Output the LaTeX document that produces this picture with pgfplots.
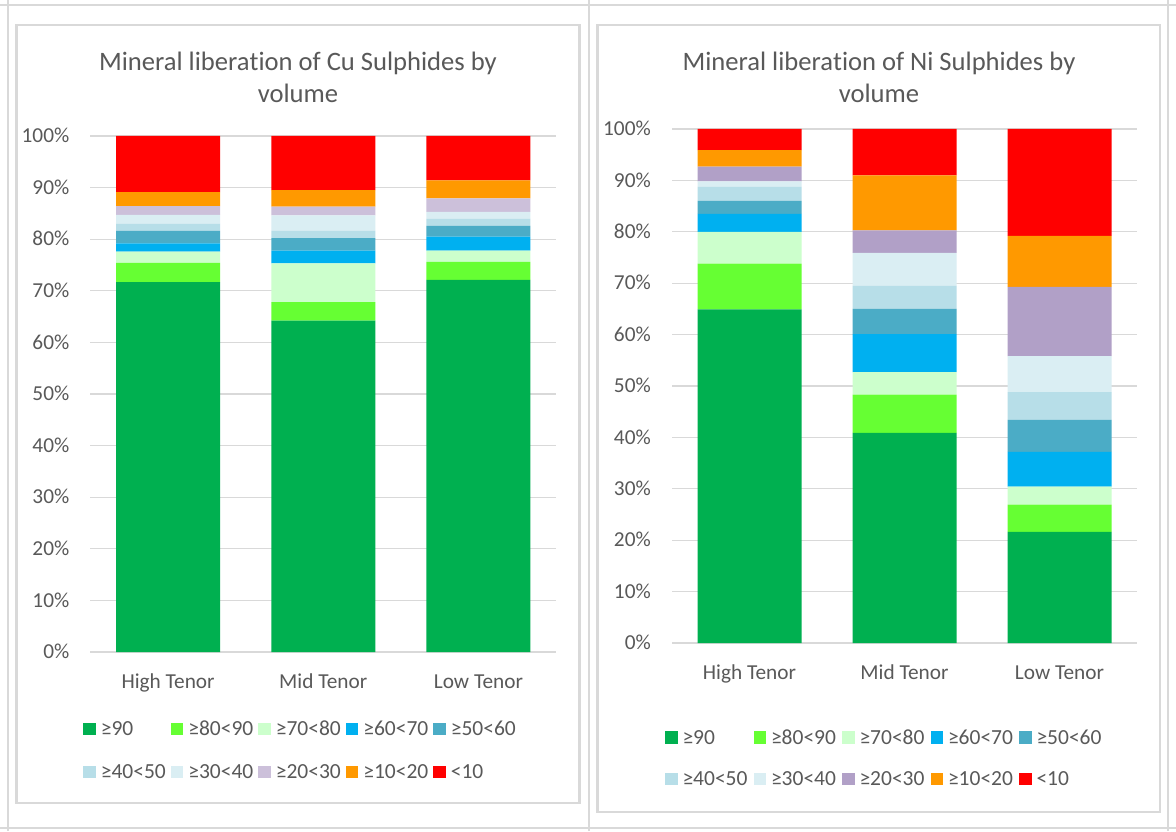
\documentclass[border=0pt]{standalone}
\usepackage{fontspec}
\setmainfont{Carlito}[Ligatures={NoCommon,NoContextual}]
\usepackage{pgfplots}
\pgfplotsset{compat=1.18}
\definecolor{c90}{HTML}{00B050}
\definecolor{c80}{HTML}{66FF33}
\definecolor{c70}{HTML}{CCFFCC}
\definecolor{c60}{HTML}{00B0F0}
\definecolor{c50}{HTML}{4BACC6}
\definecolor{c40}{HTML}{B7DEE8}
\definecolor{c30}{HTML}{DAEEF3}
\definecolor{c20a}{HTML}{CCC0DA}
\definecolor{c20b}{HTML}{B1A0C7}
\definecolor{c10}{HTML}{FF9900}
\definecolor{c0}{HTML}{FF0000}
\definecolor{txt}{HTML}{595959}
\definecolor{gridc}{HTML}{D9D9D9}
\definecolor{framec}{HTML}{D9D9D9}
\newcommand{\libt}{libera\mbox{t}ion}
\pgfplotsset{mystyle/.style={
  scale only axis, width=465.5pt, height=516pt,
  xmin=-0.5, xmax=2.5, ymin=0, ymax=100, enlargelimits=false,
  ybar stacked, bar width=104pt,
  xtick={0,1,2}, xticklabels={High Tenor,Mid Tenor,Low Tenor},
  ytick={0,10,20,30,40,50,60,70,80,90,100},
  yticklabels={0\%,10\%,20\%,30\%,40\%,50\%,60\%,70\%,80\%,90\%,100\%},
  ymajorgrids, grid style={line width=1.3pt, gridc},
  axis line style={draw=none}, major tick length=0pt,
  tick label style={font=\fontsize{21.3}{25}\selectfont, text=txt},
  xticklabel style={anchor=base, yshift=-36pt},
  yticklabel style={anchor=base east, inner xsep=0pt, xshift=-21pt, yshift=-6.7pt},
  legend columns=5,
  legend cell align=left,
  legend image code/.code={\fill[##1] (0pt,-6.4pt) rectangle (12.5pt,6.4pt);},
  legend style={draw=none, fill=none, inner sep=0pt, outer sep=0pt, anchor=north west,
    font=\fontsize{21.5}{25}\selectfont, text=txt,
    nodes={text width=65pt, align=left, inner xsep=5pt, inner ysep=0pt, text height=16.65pt, text depth=3.35pt},
    row sep=23pt},
  every axis plot/.append style={draw=none},
}}
\begin{document}
\begin{tikzpicture}
\fill[white] (0pt,0pt) rectangle (1176pt,831pt);
\path[use as bounding box] (0pt,0pt) rectangle (1176pt,831pt);
% outer table lines
\draw[framec, line width=1.5pt] (0pt,826pt) -- (1176pt,826pt);
\draw[framec, line width=1.5pt] (8pt,0pt) -- (8pt,831pt);
\draw[framec, line width=1.5pt] (589pt,0pt) -- (589pt,831pt);
\draw[framec, line width=1.5pt] (1168pt,0pt) -- (1168pt,831pt);
\draw[framec, line width=1.5pt] (0pt,3pt) -- (1176pt,3pt);
% chart boxes
\draw[framec, line width=2.3pt] (16.5pt,831pt-803pt) rectangle (579.5pt,831pt-25pt);
\draw[framec, line width=2.3pt] (597.5pt,831pt-812pt) rectangle (1160pt,831pt-25pt);
% titles
\node[anchor=base, text=txt, font=\fontsize{26.6}{32}\selectfont, inner sep=0pt] at (298pt,831pt-71pt) {Mineral \libt{} of Cu Sulphides by};
\node[anchor=base, text=txt, font=\fontsize{26.6}{32}\selectfont, inner sep=0pt] at (298pt,831pt-103pt) {volume};
\node[anchor=base, text=txt, font=\fontsize{26.6}{32}\selectfont, inner sep=0pt] at (879pt,831pt-71pt) {Mineral \libt{} of Ni Sulphides by};
\node[anchor=base, text=txt, font=\fontsize{26.6}{32}\selectfont, inner sep=0pt] at (879pt,831pt-103pt) {volume};

\begin{axis}[mystyle, at={(90.5pt,179pt)}, anchor=south west,
  legend style={at={(-0.01547,-0.12984)}, row sep=23pt}]
\addplot[fill=c90] coordinates {(0,71.7) (1,64.2) (2,72.1)};
\addplot[fill=c80] coordinates {(0,3.7) (1,3.6) (2,3.5)};
\addplot[fill=c70] coordinates {(0,2.2) (1,7.5) (2,2.2)};
\addplot[fill=c60] coordinates {(0,1.6) (1,2.5) (2,2.7)};
\addplot[fill=c50] coordinates {(0,2.4) (1,2.4) (2,2.1)};
\addplot[fill=c40] coordinates {(0,1.4) (1,1.4) (2,1.4)};
\addplot[fill=c30] coordinates {(0,1.7) (1,3.0) (2,1.3)};
\addplot[fill=c20a] coordinates {(0,1.7) (1,1.7) (2,2.6)};
\addplot[fill=c10] coordinates {(0,2.7) (1,3.2) (2,3.5)};
\addplot[fill=c0] coordinates {(0,10.9) (1,10.5) (2,8.6)};
\legend{≥90,≥80<90,≥70<80,≥60<70,≥50<60,≥40<50,≥30<40,≥20<30,≥10<20,<10}
\end{axis}

\begin{axis}[mystyle, at={(672pt,188pt)}, anchor=south west, width=465pt, height=514pt,
  legend style={at={(-0.01505,-0.1644)}, row sep=21.5pt,
    nodes={text width=66pt}}]
\addplot[fill=c90] coordinates {(0,64.9) (1,40.9) (2,21.6)};
\addplot[fill=c80] coordinates {(0,8.9) (1,7.4) (2,5.3)};
\addplot[fill=c70] coordinates {(0,6.2) (1,4.4) (2,3.5)};
\addplot[fill=c60] coordinates {(0,3.5) (1,7.4) (2,6.8)};
\addplot[fill=c50] coordinates {(0,2.5) (1,4.9) (2,6.2)};
\addplot[fill=c40] coordinates {(0,2.8) (1,4.5) (2,5.4)};
\addplot[fill=c30] coordinates {(0,1.0) (1,6.4) (2,7.0)};
\addplot[fill=c20b] coordinates {(0,2.9) (1,4.4) (2,13.5)};
\addplot[fill=c10] coordinates {(0,3.2) (1,10.7) (2,9.9)};
\addplot[fill=c0] coordinates {(0,4.1) (1,9.0) (2,20.8)};
\legend{≥90,≥80<90,≥70<80,≥60<70,≥50<60,≥40<50,≥30<40,≥20<30,≥10<20,<10}
\end{axis}
\end{tikzpicture}
\end{document}
